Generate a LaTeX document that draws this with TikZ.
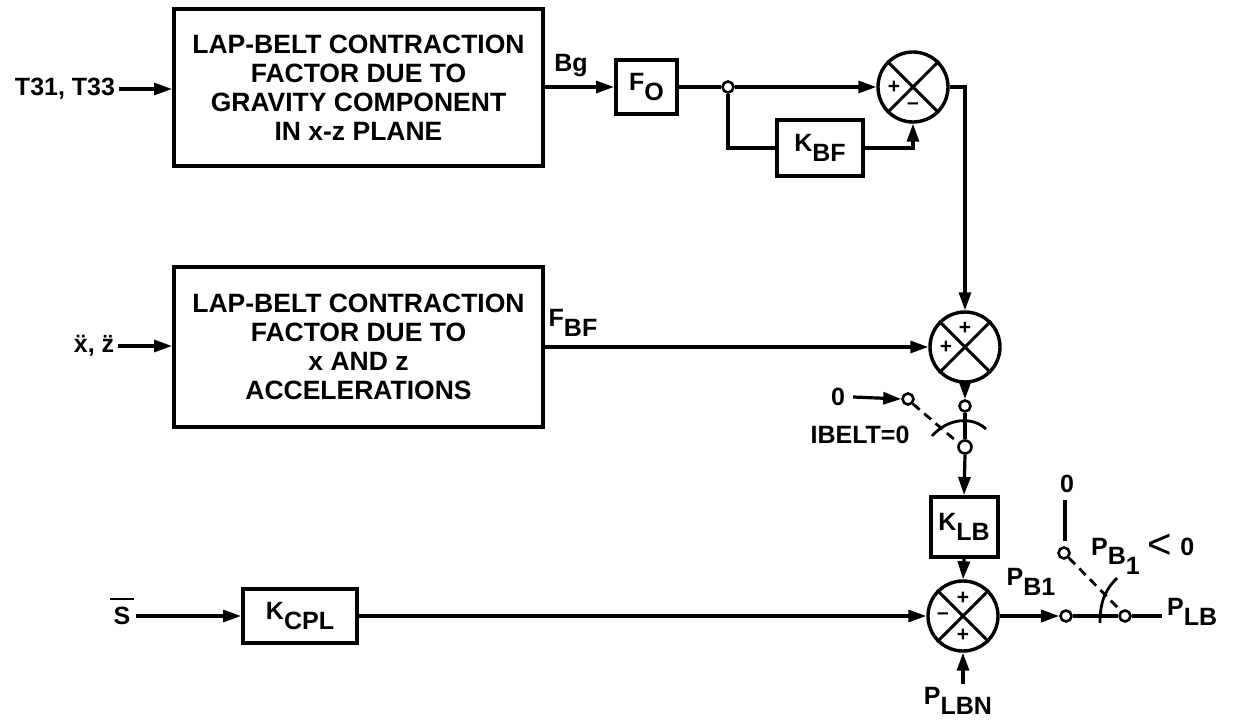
\documentclass[tikz,border=0pt]{standalone}
\usepackage{fontspec}
\setmainfont{Liberation Sans}
\usetikzlibrary{arrows.meta}
\newcommand\lowr[1]{\raisebox{-0.38em}{#1}}
\begin{document}
\begin{tikzpicture}[x=1pt,y=-1pt,
 blk/.style={draw,line width=4pt,inner sep=0pt,font=\bfseries\fontsize{26.5}{29}\selectfont,align=center},
 gain/.style={draw,line width=4pt,inner sep=0pt,font=\bfseries\fontsize{25}{27}\selectfont},
 sumc/.style={draw,circle,line width=3.4pt,minimum size=70pt,inner sep=0pt},
 term/.style={draw,circle,line width=2.6pt,minimum size=11pt,inner sep=0pt,fill=white},
 conn/.style={line width=3.2pt},
 arr/.style={conn,-{Triangle[length=18pt,width=12pt]}},
 lbl/.style={font=\bfseries\fontsize{25}{27}\selectfont,inner sep=0pt},
 sgn/.style={font=\bfseries\fontsize{21}{21}\selectfont,inner sep=0pt}]
\useasboundingbox (0,0) rectangle (1235,722);

% blocks
\node[blk,minimum width=369pt,minimum height=157pt] (box1) at (358.5,87.5)
  {LAP-BELT CONTRACTION\\FACTOR DUE TO\\GRAVITY COMPONENT\\IN x-z PLANE};
\node[blk,minimum width=369pt,minimum height=160pt] (box2) at (358.5,347)
  {LAP-BELT CONTRACTION\\FACTOR DUE TO\\x AND z\\ACCELERATIONS};
\node[gain,minimum width=61pt,minimum height=54pt] (fo) at (646.5,87) {F\lowr{O}};
\node[gain,minimum width=86pt,minimum height=56pt] (kbf) at (820,148) {K\lowr{BF}};
\node[gain,minimum width=67pt,minimum height=60pt] (klb) at (964,527) {K\lowr{LB}};
\node[gain,minimum width=114pt,minimum height=54pt] (kcpl) at (300,616) {K\lowr{CPL}};

% summing junctions
\node[sumc] (s1) at (913,87) {};
\node[sumc] (s2) at (965,347) {};
\node[sumc] (s3) at (963,616) {};
\foreach \s in {s1,s2,s3}{
  \draw[line width=3pt] (\s.north west) -- (\s.south east);
  \draw[line width=3pt] (\s.north east) -- (\s.south west);
}
\node[sgn] (s1p) at ([xshift=-19pt]s1.center) {+};
\node[sgn] (s1m) at ([yshift=-20pt]s1.center) {\raisebox{0.1em}{\textendash}};
\node[sgn] (s2p1) at ([yshift=19pt]s2.center) {+};
\node[sgn] (s2p2) at ([xshift=-19pt]s2.center) {+};
\node[sgn] (s3p1) at ([yshift=18pt]s3.center) {+};
\node[sgn] (s3m) at ([xshift=-20pt]s3.center) {\textendash};
\node[sgn] (s3p2) at ([yshift=-19pt]s3.center) {+};

% input labels
\node[lbl] (tin) at (65,89) {T31, T33};
\node[lbl] (xin) at (94,346) {\"x, \"z};
\node[lbl] (sin) at (122,616) {S};
\draw[line width=2.4pt] ([xshift=-3pt,yshift=8pt]sin.north west) -- ([xshift=3pt,yshift=8pt]sin.north east);
\draw[arr] (tin.east) ++(4,0) coordinate (tin0) -- (tin0 -| box1.west);
\draw[arr] (xin.east) ++(4,0) coordinate (xin0) -- (xin0 -| box2.west);
\draw[arr] ([xshift=5pt]sin.east |- kcpl.west) -- (kcpl.west);

% top path
\node[term] (j1) at (728,87) {};
\draw[arr] (box1.east |- fo.west) -- (fo.west);
\node[lbl] (bg) at (571,66) {Bg};
\draw[conn] (fo.east) -- (j1.west);
\draw[arr] (j1.east) -- (s1.west);
\draw[conn] (j1.south) |- (kbf.west);
\draw[arr] (kbf.east) -| (s1.south);
\draw[arr] (s1.east) -| (s2.north);

% middle path
\draw[arr] (box2.east) -- (s2.west);
\node[lbl] (fbf) at (573,323) {F\lowr{BF}};

% switch IBELT
\node[term] (t1) at (965,406) {};
\node[term,minimum size=13pt] (t2) at (965,447) {};
\node[term] (t0) at (908,399) {};
\node[lbl] (z1) at (838,397) {0};
\node[lbl] (ib) at (860,435) {IBELT=0};
\draw[arr] (s2.south) -- (t1.north);
\draw[conn] (t1.south) -- (t2.north);
\draw[arr] (z1.east) ++(8,0) coordinate (z1a) -- (t0.west);
\coordinate (d1e) at (955,440);
\draw[conn,line width=2.8pt,dash pattern=on 9pt off 6pt] (t0.south east) -- (d1e);
\coordinate (a1s) at (932,436);
\coordinate (a1e) at (986,429);
\draw[conn,line width=2.8pt] (a1s) .. controls (948,418) and (972,416) .. (a1e);
\draw[arr] (t2.south) -- (klb.north);
\draw[arr] (klb.south) -- (s3.north);

% bottom path
\draw[arr] (kcpl.east) -- (s3.west);
\node[lbl,inner ysep=0pt] (plbn) at (958,701) {P\lowr{LBN}};
\coordinate (plbna) at (963,684);
\draw[arr] (plbna) -- (s3.south);

% output switch
\node[term] (t3) at (1066,616) {};
\node[term] (t4) at (1125,616) {};
\node[term] (t5) at (1064,553) {};
\node[lbl] (z2) at (1067,484) {0};
\coordinate (pend) at (1162,616);
\node[lbl,anchor=west] (plb) at (1167,612) {P\lowr{LB}};
\node[lbl] (pb1) at (1031,582) {P\lowr{B1}};
\node[lbl,anchor=base west] (pbc) at (1091,555) {P\lowr{B\lowr{1}}\hspace{8pt}\raisebox{-0.12em}{\fontsize{42}{42}\selectfont\mdseries <}\hspace{8pt}0};
\draw[arr] (s3.east) -- (t3.west);
\draw[conn] (t3.east) -- (t4.west);
\draw[conn] (t4.east) -- (pend);
\coordinate (z2a) at (1065,500);
\coordinate (z2b) at (1065,541);
\draw[conn] (z2a) -- (z2b);
\coordinate (d2e) at (1119,609);
\draw[conn,line width=2.8pt,dash pattern=on 9pt off 6pt] (t5.south east) -- (d2e);
\coordinate (a2s) at (1100,623);
\coordinate (a2e) at (1117,578);
\draw[conn,line width=2.8pt] (a2s) .. controls (1100,602) and (1105,590) .. (a2e);
\end{tikzpicture}
\end{document}
